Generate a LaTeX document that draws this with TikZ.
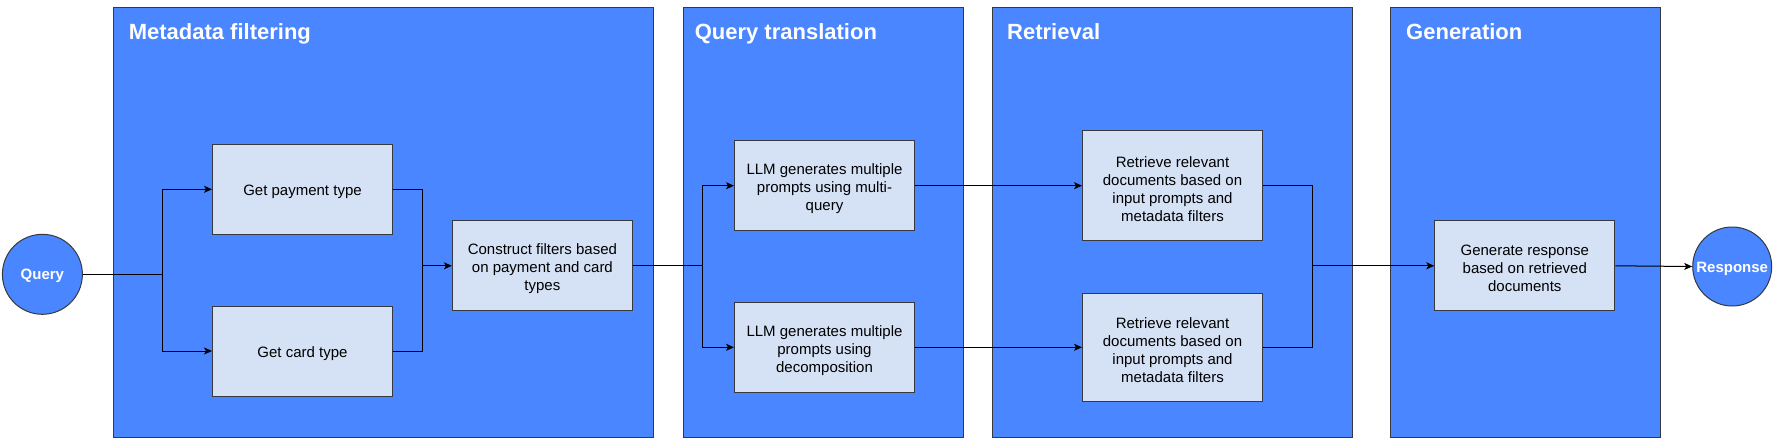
\documentclass[tikz,border=0pt]{standalone}
\usepackage{fontspec}
\setmainfont{Liberation Sans}
\usetikzlibrary{arrows.meta}
\definecolor{stageblue}{HTML}{4A86FF}
\definecolor{boxblue}{HTML}{D5E1F5}
\definecolor{edgegray}{HTML}{36393D}
\tikzset{
  stage/.style={draw=edgegray, line width=1pt, fill=stageblue, minimum width=#1, minimum height=430pt, inner sep=0pt, anchor=north west},
  stagetitle/.style={font=\fontsize{22}{26}\selectfont\bfseries, text=white, anchor=base west, inner sep=0pt},
  stepbox/.style={draw=edgegray, line width=1pt, fill=boxblue, minimum width=180pt, minimum height=#1, inner sep=0pt},
  steptext/.style={inner sep=0pt, align=center, font=\fontsize{15}{18}\selectfont, text=black, yshift=-3pt},
  endpoint/.style={circle, draw=edgegray, line width=1pt, fill=stageblue, minimum size=80pt, inner sep=0pt},
  endtext/.style={inner sep=0pt, font=\fontsize{15}{18}\selectfont\bfseries, text=white, yshift=-2pt},
  conn/.style={draw=black, line width=1pt},
  arr/.style={conn, -{Stealth[length=8pt,width=7pt,inset=2pt]}},
}
\begin{document}
\begin{tikzpicture}[x=1pt,y=-1pt]
\useasboundingbox (0,0) rectangle (1775,440);
% stages
\node[stage=540pt] (s1) at (112.5,6.7) {};
\node[stage=280pt] (s2) at (682.6,6.7) {};
\node[stage=360pt] (s3) at (992.4,6.7) {};
\node[stage=270pt] (s4) at (1390,6.7) {};
\node[stagetitle] (t1) at (128.6,39) {Metadata filtering};
\node[stagetitle] (t2) at (694.6,39) {Query translation};
\node[stagetitle] (t3) at (1007,39) {Retrieval};
\node[stagetitle] (t4) at (1406,39) {Generation};
% end points
\node[endpoint] (q) at (42.4,274.3) {};
\node[endtext] (qt) at (q) {Query};
\node[endpoint, minimum size=79pt] (resp) at (1732.2,266.5) {};
\node[endtext] (respt) at (resp) {Response};
% step boxes
\node[stepbox=90pt] (pay) at (302.5,189.3) {};
\node[steptext] (payt) at (pay) {Get payment type};
\node[stepbox=90pt] (card) at (302.5,351) {};
\node[steptext] (cardt) at (card) {Get card type};
\node[stepbox=90pt] (cons) at (542.4,265.8) {};
\node[steptext] (const) at (cons) {Construct filters based\\on payment and card\\types};
\node[stepbox=90pt] (llm1) at (824.5,185.7) {};
\node[steptext] (llm1t) at (llm1) {LLM generates multiple\\prompts using multi-\\query};
\node[stepbox=90pt] (llm2) at (824.5,347.3) {};
\node[steptext] (llm2t) at (llm2) {LLM generates multiple\\prompts using\\decomposition};
\node[stepbox=110pt] (ret1) at (1172.5,185.7) {};
\node[steptext] (ret1t) at (ret1) {Retrieve relevant\\documents based on\\input prompts and\\metadata filters};
\node[stepbox=108pt] (ret2) at (1172.5,347.3) {};
\node[steptext] (ret2t) at (ret2) {Retrieve relevant\\documents based on\\input prompts and\\metadata filters};
\node[stepbox=90pt] (gen) at (1524.8,265.8) {};
\node[steptext] (gent) at (gen) {Generate response\\based on retrieved\\documents};
% junctions
\coordinate (b1) at (162.5,274.3);
\coordinate (m1) at (422.3,265.8);
\coordinate (b2) at (702.2,265.8);
\coordinate (m2) at (1312.3,265.8);
% connectors
\draw[conn] (q.east) -- (b1);
\draw[arr] (b1) |- (pay.west);
\draw[arr] (b1) |- (card.west);
\draw[conn] (pay.east) -| (m1);
\draw[conn] (card.east) -| (m1);
\draw[arr] (m1) -- (cons.west);
\draw[conn] (cons.east) -- (b2);
\draw[arr] (b2) |- (llm1.west);
\draw[arr] (b2) |- (llm2.west);
\draw[arr] (llm1.east) -- (ret1.west);
\draw[arr] (llm2.east) -- (ret2.west);
\draw[conn] (ret1.east) -| (m2);
\draw[conn] (ret2.east) -| (m2);
\draw[arr] (m2) -- (gen.west);
\draw[arr] (gen.east) -- (resp.west);
\end{tikzpicture}
\end{document}
